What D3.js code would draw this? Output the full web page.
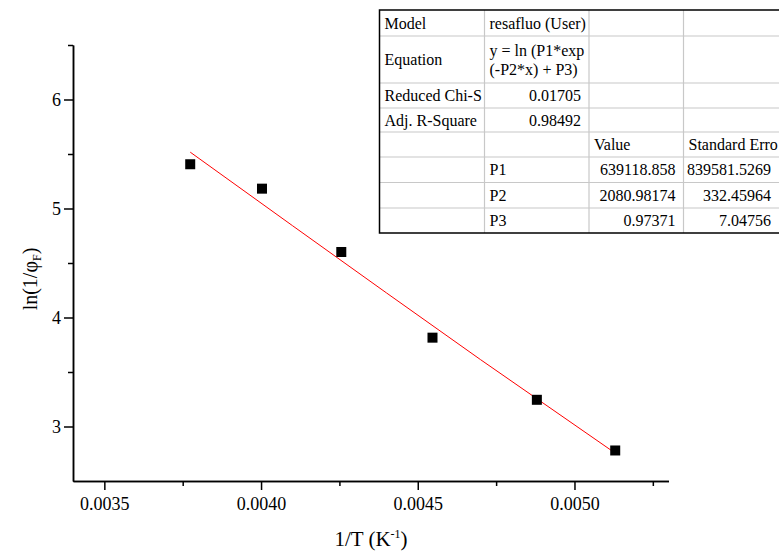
<!DOCTYPE html>
<html>
<head>
<meta charset="utf-8">
<script src="https://cdn.jsdelivr.net/npm/d3@7"></script>
<style>
  body { margin: 0; background: #fff; }
  svg { display: block; font-family: "Liberation Serif", "Times New Roman", serif; }
</style>
</head>
<body>
<svg id="chart" width="779" height="553"></svg>
<script>
// measured points
const invT = [0.003774, 0.004003, 0.004256, 0.004547, 0.00488, 0.00513];
const lnPhi = [5.406, 5.182, 4.601, 3.815, 3.245, 2.78];

// fitted curve
const fitX = [0.003774, 0.0041, 0.0044, 0.0047, 0.00513];
const fitY = [5.517, 4.843, 4.226, 3.614, 2.756];

const xMajor = [0.0035, 0.0040, 0.0045, 0.0050];
const xMinor = [0.00375, 0.00425, 0.00475, 0.00525];
const yMajor = [3, 4, 5, 6];
const yMinor = [3.5, 4.5, 5.5, 6.5];

const tableRows = [
  ['Model', 'resafluo (User)', '', ''],
  ['Equation', 'y = ln (P1*exp|(-P2*x) + P3)', '', ''],
  ['Reduced Chi-S', '0.01705', '', ''],
  ['Adj. R-Square', '0.98492', '', ''],
  ['', '', 'Value', 'Standard Erro'],
  ['', 'P1', '639118.858', '839581.5269'],
  ['', 'P2', '2080.98174', '332.45964'],
  ['', 'P3', '0.97371', '7.04756']
];

const svg = d3.select('#chart');
const x = d3.scaleLinear().domain([0.0034, 0.0053]).range([73, 668.5]);
const y = d3.scaleLinear().domain([2.5, 6.5]).range([481, 45]);

function styleAxis(g) {
  g.select('.domain').attr('stroke-width', 1.5);
  g.selectAll('.tick line').attr('stroke-width', 1.5);
  g.selectAll('text').attr('font-family', '"Liberation Serif", serif').attr('font-size', 18).attr('fill', '#000');
}

// x axis
svg.append('g')
  .attr('transform', 'translate(0,481)')
  .call(d3.axisBottom(x).tickValues(xMinor).tickSize(5).tickSizeOuter(0).tickFormat(''))
  .call(styleAxis);
svg.append('g')
  .attr('transform', 'translate(0,481)')
  .call(d3.axisBottom(x).tickValues(xMajor).tickSize(9).tickSizeOuter(0).tickPadding(7).tickFormat(d3.format('.4f')))
  .call(styleAxis);

// y axis
svg.append('g')
  .attr('transform', 'translate(73,0)')
  .call(d3.axisLeft(y).tickValues(yMinor).tickSize(5).tickSizeOuter(0).tickFormat(''))
  .call(styleAxis);
svg.append('g')
  .attr('transform', 'translate(73,0)')
  .call(d3.axisLeft(y).tickValues(yMajor).tickSize(9).tickSizeOuter(0).tickPadding(3).tickFormat(d3.format('d')))
  .call(styleAxis);

// axis titles
const xt = svg.append('text')
  .attr('x', 371).attr('y', 546)
  .attr('text-anchor', 'middle')
  .attr('font-size', 21);
xt.append('tspan').text('1/T (K');
xt.append('tspan').attr('font-size', 12).attr('dy', -8).text('-1');
xt.append('tspan').attr('dy', 8).text(')');

const yt = svg.append('text')
  .attr('transform', 'translate(37,279) rotate(-90)')
  .attr('text-anchor', 'middle')
  .attr('font-size', 20);
yt.append('tspan').text('ln(1/φ');
yt.append('tspan').attr('font-size', 12).attr('dy', 4).text('F');
yt.append('tspan').attr('dy', -4).text(')');

// fit curve
const fitLine = d3.line().x(d => x(d[0])).y(d => y(d[1]));
svg.append('path')
  .datum(d3.zip(fitX, fitY))
  .attr('fill', 'none')
  .attr('stroke', '#ff0000')
  .attr('stroke-width', 1)
  .attr('d', fitLine);

// points
const sq = 10;
svg.selectAll('rect.pt')
  .data(d3.zip(invT, lnPhi))
  .join('rect')
  .attr('class', 'pt')
  .attr('x', d => x(d[0]) - sq / 2)
  .attr('y', d => y(d[1]) - sq / 2)
  .attr('width', sq).attr('height', sq)
  .attr('fill', '#000');

// results table (last column runs off the right edge)
const colEdges = [379.5, 484.5, 589, 683.5, 779];
const rowEdges = [10, 36, 83, 108, 132, 157, 182.5, 208, 233];
const tbl = svg.append('g');
tbl.append('rect')
  .attr('x', colEdges[0]).attr('y', rowEdges[0])
  .attr('width', colEdges[4] - colEdges[0]).attr('height', rowEdges[8] - rowEdges[0])
  .attr('fill', '#fff');
rowEdges.slice(1, -1).forEach(r => {
  tbl.append('line').attr('x1', colEdges[0]).attr('x2', colEdges[4])
    .attr('y1', r).attr('y2', r).attr('stroke', '#c8c8c8').attr('stroke-width', 1.2);
});
colEdges.slice(1, -1).forEach(c => {
  tbl.append('line').attr('x1', c).attr('x2', c)
    .attr('y1', rowEdges[0]).attr('y2', rowEdges[8]).attr('stroke', '#c8c8c8').attr('stroke-width', 1.2);
});
tbl.append('path')
  .attr('d', `M${colEdges[4]},${rowEdges[0]}H${colEdges[0]}V${rowEdges[8]}H${colEdges[4]}`)
  .attr('fill', 'none').attr('stroke', '#000').attr('stroke-width', 1.5);

const isNum = s => /^-?[0-9.]+$/.test(s);
tableRows.forEach((row, ri) => {
  const cy = (rowEdges[ri] + rowEdges[ri + 1]) / 2;
  row.forEach((cell, ci) => {
    if (!cell) return;
    const lines = cell.split('|');
    const right = isNum(cell);
    const tx = right ? colEdges[ci + 1] - 8 : colEdges[ci] + 5;
    const t = tbl.append('text')
      .attr('font-size', 16)
      .attr('text-anchor', right ? 'end' : 'start');
    lines.forEach((ln, li) => {
      t.append('tspan')
        .attr('x', tx)
        .attr('y', cy + 5.5 - (lines.length - 1) * 9.5 + li * 19)
        .text(ln);
    });
  });
});
</script>
</body>
</html>
